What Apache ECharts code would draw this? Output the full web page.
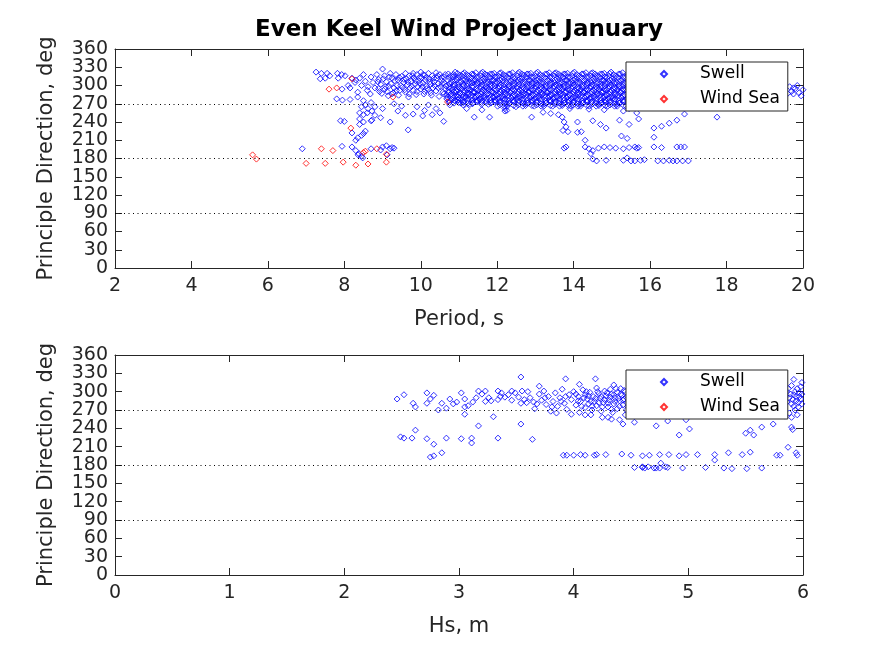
<!DOCTYPE html>
<html>
<head>
<meta charset="utf-8">
<script src="https://cdn.jsdelivr.net/npm/echarts@6/dist/echarts.min.js"></script>
<style>
html,body{margin:0;padding:0;background:#fff;}
#chart{width:887px;height:648px;}
</style>
</head>
<body>
<div id="chart"></div>
<script>
// Top panel: [Period (s), Principle Direction (deg)]
const topSwellSparse = [
[6.9,196],[7.26,322],[7.4,320],[7.55,320],[7.62,316],[7.37,311],[7.5,312],[7.82,320],[7.93,318],[8.02,316],[7.84,312],[7.94,294],[8.1,300],[8.2,312],[8.3,309],[8.28,305],[8.15,296],[8.4,312],[8.45,300],[8.35,289],[8.5,318],[8.55,307],[8.62,298],[8.6,292],[8.7,314],[8.75,305],[8.8,296],[8.68,286],
[7.8,278],[7.95,276],[8.15,277],[8.35,281],[8.5,275],[8.55,268],[8.62,262],[8.7,272],[8.45,265],[8.6,255],[8.72,258],[8.8,265],
[7.9,242],[8.0,241],[8.4,255],[8.5,252],[8.4,245],[8.5,240],[8.7,242],[8.72,243],[8.4,236],[8.2,222],[8.45,218],[8.5,221],[8.55,225],[8.35,214],[8.3,210],
[7.94,200],[8.2,199],[8.3,193],[8.38,188],[8.45,184],[8.48,181],[8.36,186],[8.7,196],[9.0,199],[9.1,201],[9.2,196],[9.25,198],[9.3,197],[8.95,194],[9.12,186],
[8.8,251],[8.95,247],[9.2,240],[9.6,251],[9.8,253],[10.05,250],[10.3,252],[10.5,255],[9.67,227],[10.6,241],[11.4,248],[11.8,248],[9.0,262],[9.3,270],[9.5,266],[9.9,265],[10.2,268],[10.4,262],[10.1,259],[9.4,258]
];
const topSwellMid = [
[8.85,318],[8.9,310],[8.95,302],[8.9,295],[8.98,287],[9.0,327],[9.05,316],[9.1,306],[9.08,298],[9.12,290],[9.15,283],[9.2,320],[9.25,312],[9.22,303],[9.3,296],[9.28,288],[9.35,318],[9.4,309],[9.38,300],[9.45,292],[9.42,284],[9.5,315],[9.55,305],[9.52,297],[9.6,320],[9.62,311],[9.65,301],[9.6,289],[9.68,281],[9.7,316],[9.75,307],[9.72,296],[9.8,320],[9.82,312],[9.85,302],[9.8,292],[9.88,285],[9.9,318],[9.95,308],[9.92,298],[10.0,322],[10.02,313],[10.05,304],[10.0,294],[10.08,286],[10.1,317],[10.12,309],[10.15,299],[10.1,290],[10.2,320],[10.22,311],[10.25,302],[10.2,293],[10.28,284],[10.3,316],[10.35,306],[10.32,296],[10.4,321],[10.42,312],[10.45,303],[10.4,291],[10.48,282],[10.5,318],[10.55,308],[10.52,298],[10.6,314],[10.62,304],[10.65,294],[10.6,286],[10.68,278],
[8.88,306],[8.92,290],[9.02,311],[9.06,294],[9.18,314],[9.16,299],[9.24,286],[9.32,308],[9.36,292],[9.44,313],[9.48,300],[9.56,310],[9.58,293],[9.66,306],[9.7,286],[9.78,316],[9.76,299],[9.86,308],[9.9,290],[9.96,313],[9.98,303],[10.06,318],[10.04,298],[10.14,313],[10.16,295],[10.24,306],[10.26,288],[10.34,312],[10.36,300],[10.44,316],[10.46,296],[10.54,313],[10.56,303],[10.58,289],[10.64,318],[10.66,299],[10.68,284]
];
const topSwellBand = [
[10.72,319],[10.71,308],[10.74,297],[10.73,289],[10.7,280],[10.75,272],
[10.84,314],[10.86,302],[10.83,293],[10.85,284],[10.88,275],
[10.96,320],[10.95,309],[10.98,298],[10.94,290],[10.97,281],[10.99,272],
[11.08,315],[11.1,303],[11.07,294],[11.09,285],[11.06,276],[11.11,268],
[11.2,318],[11.19,307],[11.22,299],[11.21,288],[11.18,280],[11.23,271],
[11.32,313],[11.34,304],[11.31,293],[11.33,284],[11.35,276],
[11.44,321],[11.43,310],[11.46,300],[11.42,289],[11.45,281],[11.47,273],
[11.56,316],[11.58,305],[11.55,295],[11.57,286],[11.54,277],[11.59,269],
[11.68,319],[11.67,308],[11.7,298],[11.69,290],[11.66,280],[11.71,272],
[11.8,314],[11.82,303],[11.79,294],[11.81,285],[11.83,276],
[11.92,320],[11.91,309],[11.94,299],[11.9,288],[11.93,281],[11.95,273],
[12.04,315],[12.06,304],[12.03,295],[12.05,286],[12.02,277],[12.07,268],
[12.16,318],[12.15,307],[12.18,297],[12.17,289],[12.14,279],[12.19,271],[12.2,262],
[12.28,313],[12.3,302],[12.27,293],[12.29,284],[12.31,275],[12.26,266],
[12.4,321],[12.39,310],[12.42,300],[12.38,291],[12.41,282],[12.43,273],
[12.52,316],[12.54,305],[12.51,296],[12.53,286],[12.5,277],[12.55,268],
[12.64,319],[12.63,308],[12.66,298],[12.65,289],[12.62,280],[12.67,271],
[12.76,314],[12.78,303],[12.75,294],[12.77,285],[12.79,276],[12.74,267],
[12.88,320],[12.87,309],[12.9,299],[12.86,290],[12.89,281],[12.91,272],
[13.0,315],[13.02,304],[12.99,295],[13.01,286],[12.98,277],[13.03,268],
[13.12,318],[13.11,307],[13.14,298],[13.13,288],[13.1,279],[13.15,270],
[13.24,313],[13.26,302],[13.23,293],[13.25,284],[13.27,275],[13.22,266],
[13.36,321],[13.35,310],[13.38,300],[13.34,291],[13.37,282],[13.39,273],
[13.48,316],[13.5,305],[13.47,296],[13.49,287],[13.46,278],[13.51,269],
[13.6,319],[13.59,308],[13.62,298],[13.61,289],[13.58,280],[13.63,271],
[13.72,314],[13.74,303],[13.71,294],[13.73,285],[13.75,276],[13.7,267],
[13.84,320],[13.83,309],[13.86,299],[13.82,290],[13.85,281],[13.87,272],
[13.96,315],[13.98,304],[13.95,295],[13.97,286],[13.94,277],[13.99,268],
[14.08,318],[14.07,307],[14.1,297],[14.09,288],[14.06,279],[14.11,270],
[14.2,313],[14.22,302],[14.19,293],[14.21,284],[14.23,275],[14.18,266],
[14.32,321],[14.31,310],[14.34,300],[14.3,291],[14.33,282],[14.35,273],
[14.44,316],[14.46,305],[14.43,296],[14.45,287],[14.42,278],[14.47,269],
[14.56,319],[14.55,308],[14.58,298],[14.57,289],[14.54,280],[14.59,271],
[14.68,314],[14.7,303],[14.67,294],[14.69,285],[14.71,276],[14.66,267],
[14.8,320],[14.79,309],[14.82,299],[14.78,290],[14.81,281],[14.83,272],
[14.92,315],[14.94,304],[14.91,295],[14.93,286],[14.9,277],[14.95,268],
[15.04,318],[15.03,307],[15.06,297],[15.05,288],[15.02,279],[15.07,270],
[15.16,313],[15.18,302],[15.15,293],[15.17,284],[15.19,275],[15.14,266],
[15.28,321],[15.27,310],[15.3,300],[15.26,291],[15.29,282],[15.31,273],
[15.4,316],[15.42,305],[15.39,296],[15.41,287],[15.38,278],[15.43,269]
];
const topSwellBand2 = [
[10.78,316],[10.8,305],[10.77,295],[10.79,286],[10.81,277],[10.76,268],
[10.9,322],[10.92,311],[10.89,301],[10.91,292],[10.93,283],[10.9,275],
[11.02,317],[11.04,306],[11.01,297],[11.03,288],[11.0,279],[11.05,271],
[11.14,321],[11.16,310],[11.13,300],[11.15,291],[11.17,282],[11.12,273],
[11.26,316],[11.28,305],[11.25,295],[11.27,287],[11.24,278],[11.29,269],
[11.38,318],[11.4,308],[11.37,298],[11.39,289],[11.41,280],[11.36,271],
[11.5,313],[11.52,303],[11.49,292],[11.51,284],[11.48,275],
[11.62,322],[11.64,311],[11.61,301],[11.63,293],[11.65,283],[11.6,275],
[11.74,317],[11.76,306],[11.73,296],[11.75,287],[11.72,278],[11.77,269],
[11.86,319],[11.88,308],[11.85,299],[11.87,290],[11.89,281],[11.84,272],
[11.98,314],[12.0,304],[11.97,293],[11.99,284],[11.96,275],[12.01,266],
[12.1,321],[12.12,311],[12.09,301],[12.11,292],[12.13,283],[12.08,274],
[12.22,316],[12.24,305],[12.21,295],[12.23,287],[12.2,278],[12.25,270],
[12.34,319],[12.36,307],[12.33,298],[12.35,289],[12.37,280],[12.32,271],
[12.46,312],[12.48,302],[12.45,292],[12.47,283],[12.44,274],[12.49,265],
[12.58,322],[12.6,311],[12.57,302],[12.59,293],[12.61,284],[12.56,275],
[12.7,317],[12.72,306],[12.69,296],[12.71,287],[12.68,278],[12.73,270],
[12.82,319],[12.84,308],[12.81,298],[12.83,289],[12.85,280],[12.8,271],
[12.94,313],[12.96,303],[12.93,293],[12.95,284],[12.92,275],[12.97,266],
[13.06,322],[13.08,311],[13.05,301],[13.07,292],[13.09,283],[13.04,274],
[13.18,316],[13.2,305],[13.17,296],[13.19,287],[13.16,278],[13.21,269],
[13.3,319],[13.32,308],[13.29,298],[13.31,289],[13.33,280],[13.28,271],
[13.42,313],[13.44,303],[13.41,293],[13.43,284],[13.4,275],[13.45,266],
[13.54,321],[13.56,311],[13.53,301],[13.55,292],[13.57,283],[13.52,274],
[13.66,316],[13.68,305],[13.65,296],[13.67,287],[13.64,278],[13.69,269],
[13.78,319],[13.8,308],[13.77,298],[13.79,289],[13.81,280],[13.76,271],
[13.9,313],[13.92,303],[13.89,293],[13.91,284],[13.88,275],[13.93,266],
[14.02,322],[14.04,311],[14.01,301],[14.03,292],[14.05,283],[14.0,274],
[14.14,316],[14.16,305],[14.13,296],[14.15,287],[14.12,278],[14.17,269],
[14.26,319],[14.28,308],[14.25,298],[14.27,289],[14.29,280],[14.24,271],
[14.38,313],[14.4,303],[14.37,293],[14.39,284],[14.36,275],[14.41,266],
[14.5,321],[14.52,311],[14.49,301],[14.51,292],[14.53,283],[14.48,274],
[14.62,316],[14.64,305],[14.61,296],[14.63,287],[14.6,278],[14.65,269],
[14.74,319],[14.76,308],[14.73,298],[14.75,289],[14.77,280],[14.72,271],
[14.86,313],[14.88,303],[14.85,293],[14.87,284],[14.84,275],[14.89,266],
[14.98,322],[15.0,311],[14.97,301],[14.99,292],[15.01,283],[14.96,274],
[15.1,316],[15.12,305],[15.09,296],[15.11,287],[15.08,278],[15.13,269],
[15.22,319],[15.24,308],[15.21,298],[15.23,289],[15.25,280],[15.2,271],
[15.34,313],[15.36,303],[15.33,293],[15.35,284],[15.32,275],[15.37,266],
[15.46,321],[15.48,311],[15.45,301],[15.47,292],[15.49,283],[15.44,274]
];
const topSwellBand3 = [
[10.74,313],[10.75,303],[10.73,292],[10.76,284],[10.74,275],
[10.86,318],[10.87,308],[10.85,298],[10.88,289],[10.86,280],[10.87,271],
[10.98,313],[10.99,302],[10.97,293],[11.0,284],[10.98,276],
[11.1,319],[11.11,309],[11.09,299],[11.12,290],[11.1,281],[11.11,272],
[11.22,313],[11.23,303],[11.21,293],[11.24,284],[11.22,275],
[11.34,319],[11.35,308],[11.33,298],[11.36,289],[11.34,280],[11.35,270],
[11.46,314],[11.47,304],[11.45,294],[11.48,285],[11.46,276],
[11.58,320],[11.59,309],[11.57,299],[11.6,290],[11.58,281],[11.59,272],
[11.7,313],[11.71,303],[11.69,293],[11.72,285],[11.7,275],
[11.82,319],[11.83,308],[11.81,298],[11.84,290],[11.82,280],[11.83,271],
[11.94,314],[11.95,304],[11.93,294],[11.96,285],[11.94,276],
[12.06,320],[12.07,309],[12.05,299],[12.08,290],[12.06,281],[12.07,272],
[12.18,313],[12.19,302],[12.17,293],[12.2,284],[12.18,275],[12.19,266],
[12.3,319],[12.31,308],[12.29,298],[12.32,289],[12.3,280],[12.31,270],
[12.42,314],[12.43,304],[12.41,294],[12.44,285],[12.42,276],[12.43,267],
[12.54,320],[12.55,309],[12.53,299],[12.56,290],[12.54,281],[12.55,272],
[12.66,313],[12.67,303],[12.65,293],[12.68,284],[12.66,275],[12.67,266],
[12.78,319],[12.79,308],[12.77,298],[12.8,289],[12.78,280],[12.79,271],
[12.9,314],[12.91,304],[12.89,294],[12.92,285],[12.9,276],[12.91,267],
[13.02,320],[13.03,309],[13.01,299],[13.04,290],[13.02,281],[13.03,272],
[13.14,313],[13.15,303],[13.13,293],[13.16,284],[13.14,275],[13.15,266],
[13.26,319],[13.27,308],[13.25,298],[13.28,289],[13.26,280],[13.27,271],
[13.38,314],[13.39,304],[13.37,294],[13.4,285],[13.38,276],[13.39,267],
[13.5,320],[13.51,309],[13.49,299],[13.52,290],[13.5,281],[13.51,272],
[13.62,313],[13.63,303],[13.61,293],[13.64,284],[13.62,275],[13.63,266],
[13.74,319],[13.75,308],[13.73,298],[13.76,289],[13.74,280],[13.75,271],
[13.86,314],[13.87,304],[13.85,294],[13.88,285],[13.86,276],[13.87,267],
[13.98,320],[13.99,309],[13.97,299],[14.0,290],[13.98,281],[13.99,272],
[14.1,313],[14.11,303],[14.09,293],[14.12,284],[14.1,275],[14.11,266],
[14.22,319],[14.23,308],[14.21,298],[14.24,289],[14.22,280],[14.23,271],
[14.34,314],[14.35,304],[14.33,294],[14.36,285],[14.34,276],[14.35,267],
[14.46,320],[14.47,309],[14.45,299],[14.48,290],[14.46,281],[14.47,272],
[14.58,313],[14.59,303],[14.57,293],[14.6,284],[14.58,275],[14.59,266],
[14.7,319],[14.71,308],[14.69,298],[14.72,289],[14.7,280],[14.71,271],
[14.82,314],[14.83,304],[14.81,294],[14.84,285],[14.82,276],[14.83,267],
[14.94,320],[14.95,309],[14.93,299],[14.96,290],[14.94,281],[14.95,272],
[15.06,313],[15.07,303],[15.05,293],[15.08,284],[15.06,275],[15.07,266],
[15.18,319],[15.19,308],[15.17,298],[15.2,289],[15.18,280],[15.19,271],
[15.3,314],[15.31,304],[15.29,294],[15.32,285],[15.3,276],[15.31,267],
[15.42,320],[15.43,309],[15.41,299],[15.44,290],[15.42,281],[15.43,272]
];
const topSwellLow = [
[11.2,262],[11.6,260],[12.2,258],[12.25,259],[12.9,248],[13.2,256],[13.4,254],[13.6,252],[13.7,248],[13.75,240],[13.8,232],[13.72,226],[13.85,224],[14.1,240],[14.5,242],[14.7,236],[14.85,230],[14.1,223],[14.2,224],[14.3,210],[13.8,199],[13.75,197],[15.2,243],[15.25,217],[15.4,213],[15.45,262],[15.3,258],[14.8,260],[14.4,261],[13.9,262],
[14.3,199],[14.4,196],[14.5,193],[14.65,197],[14.8,199],[14.95,198],[15.1,197],[15.3,196],[15.45,198],[15.6,199],[15.65,197],[15.7,198],[16.1,199],[16.3,198],[16.7,199],[16.8,199],[16.9,199],[14.45,188],
[14.5,179],[14.6,176],[14.85,177],[15.3,177],[15.5,176],[15.6,176],[15.75,177],[15.85,178],[16.2,176],[16.35,176],[16.5,177],[16.6,176],[16.7,176],[16.85,176],[17.0,176],[15.4,181],
[16.1,230],[16.1,215],[16.3,233],[16.5,238],[16.7,243],[16.9,253],[15.7,245],[17.75,248],[15.45,236],[15.65,255],
[15.6,300],[15.8,290],[16.0,305],[16.2,285],[16.5,295],[17.0,300],[17.5,290],[18.0,295],[18.5,288],[19.0,298],
[19.65,298],[19.7,290],[19.75,286],[19.8,295],[19.85,300],[19.9,288],[19.95,283],[20.0,293],[19.6,287],[19.75,296]
];
const topWindSea = [
[5.6,186],[5.7,179],[7.0,172],[7.4,196],[7.5,172],[7.6,294],[7.7,193],[7.8,296],[7.97,174],[8.17,230],[8.2,311],[8.3,169],[8.5,190],[8.55,192],[8.62,171],[8.85,196],[9.1,187],[9.1,174],[9.27,281],[10.7,273]
];

// Bottom panel: [Hs (m), Principle Direction (deg)]
const bottomSwellSparse = [
[2.46,288],[2.52,295],[2.6,281],[2.62,275],[2.72,298],[2.72,281],[2.75,288],[2.78,294],[2.82,270],[2.85,281],[2.89,273],[2.92,288],[2.95,280],[2.98,283],[3.02,298],[3.05,288],[3.05,275],[3.05,263],[3.08,277],[3.12,283],[3.15,290],[3.17,301],[3.2,296],[3.23,301],[3.23,284],[3.26,290],[3.28,285],[3.3,259],
[3.34,301],[3.37,298],[3.4,291],[3.43,295],[3.46,301],[3.49,298],[3.46,286],[3.52,291],[3.55,301],[3.54,324],[3.57,287],[3.59,282],[3.54,281],[3.34,287],[3.36,292],
[3.17,244],[3.54,247],
[2.49,226],[2.52,224],[2.59,224],[2.62,237],[2.72,223],[2.78,214],[2.75,193],[2.78,195],[2.85,200],[2.89,224],[3.02,223],[3.11,224],[3.11,216],[3.34,224],[3.64,222],
[3.91,196],[3.94,196],[4.0,196],[4.06,197],[4.18,196],[4.28,197],[4.5,196],[4.66,196],[4.83,197],
[4.6,177],[4.65,177],[4.7,175],[4.75,175],
[3.93,321],[4.19,321]
];
const bottomSwellCluster = [
[3.6,300],[3.62,290],[3.65,283],[3.66,272],[3.7,296],[3.72,286],[3.74,301],[3.76,279],[3.78,292],[3.8,268],[3.82,284],[3.84,298],[3.86,276],[3.88,290],[3.9,304],[3.92,281],[3.94,271],[3.96,295],[3.98,287],[4.0,300],[4.02,278],[4.04,292],[4.05,266],[4.06,284],[4.08,303],[4.1,295],[4.1,274],[4.12,288],[4.13,280],[4.14,299],[4.16,270],[4.17,292],[4.18,284],[4.2,306],[4.2,277],[4.22,297],[4.23,289],[4.24,268],[4.26,282],[4.27,301],[4.28,293],[4.3,275],[4.31,286],[4.32,304],[4.33,296],[4.34,266],[4.35,280],[4.36,290],[4.38,299],[4.38,272],[4.4,285],[4.41,305],[4.42,294],[4.43,278],[4.44,288],[4.45,300],[4.46,270],[4.47,283],[4.48,293],[4.5,310],[4.5,276],[4.52,298],[4.53,286],[4.54,268],[4.55,291],[4.56,280],
[4.02,296],[4.04,285],[4.07,276],[4.09,290],[4.11,300],[4.13,293],[4.15,284],[4.16,276],[4.19,289],[4.21,300],[4.22,282],[4.24,292],[4.25,275],[4.27,287],[4.29,298],[4.3,281],[4.32,291],[4.33,271],[4.35,295],[4.36,284],[4.37,305],[4.39,289],[4.4,276],[4.41,296],[4.43,286],[4.44,302],[4.46,291],[4.47,276],[4.49,287],[4.51,295],[4.52,281],[4.54,299],[4.55,272],[4.57,288],[4.58,297],[3.75,290],[3.68,280],[3.81,275],[3.89,284],[3.93,292],
[3.7,309],[3.85,265],[4.05,312],[4.15,262],[4.25,258],[4.35,311],[4.1,262],[3.98,263],[4.45,262],[4.3,258],
[4.6,290],[4.8,300],[5.0,285],[5.2,295],[5.4,280],[5.6,300],[5.8,290],
[5.86,300],[5.88,290],[5.9,280],[5.9,310],[5.92,295],[5.93,270],[5.94,285],[5.95,305],[5.96,275],[5.97,298],[5.98,288],[5.99,315],[5.88,265],[5.95,262],[5.99,280],[5.92,320],[5.97,292],[5.86,283],[5.84,260],[5.9,258],
[5.87,305],[5.89,296],[5.91,287],[5.93,300],[5.94,292],[5.96,282],[5.98,308],[5.99,296],[5.85,292],[5.92,276]
];
const bottomSwellRight = [
[4.33,255],[4.4,254],[4.43,247],[4.53,250],[4.72,244],[4.98,254],[5.01,239],[4.92,229],[5.5,232],[5.54,237],[5.57,229],[5.64,242],[5.74,247],[5.9,242],[5.91,238],[4.82,252],
[4.1,196],[4.2,197],[4.42,198],[4.6,195],[4.75,197],[4.92,195],[4.98,197],[5.08,197],[5.23,197],[5.23,188],[5.35,200],[5.47,197],[5.54,201],[5.77,196],[5.8,196],[5.87,209],[5.94,200],[5.95,196],
[4.53,176],[4.6,176],[4.62,175],[4.72,175],[4.76,183],[4.8,177],[4.82,176],[4.95,175],[5.15,176],[5.31,175],[5.38,174],[5.51,174],[5.64,175]
];
const bottomWindSea = [];

const refLines = [90, 180, 270];
const periodRange = [2, 20, 2];
const hsRange = [0, 6, 1];
const dirRange = [0, 360, 30];

const topSwell = topSwellSparse.concat(topSwellMid, topSwellBand, topSwellBand2, topSwellBand3, topSwellLow);
const bottomSwell = bottomSwellSparse.concat(bottomSwellCluster, bottomSwellRight);

const FONT = 'DejaVu Sans';
const AX = '#262626';
const tickFs = 19, nameFs = 21;

function xAx(grid, range, name, top) {
  return {
    type: 'value', gridIndex: grid, position: top ? 'top' : 'bottom',
    min: range[0], max: range[1], interval: range[2],
    name: top ? '' : name, nameLocation: 'middle', nameGap: 41,
    nameTextStyle: {fontFamily: FONT, fontSize: nameFs, color: AX},
    axisLine: {show: true, onZero: false, lineStyle: {color: AX, width: 1}},
    axisTick: {show: true, inside: true, length: 7, lineStyle: {color: AX}},
    axisLabel: {show: !top, fontFamily: FONT, fontSize: tickFs, color: AX, margin: 9, showMinLabel: true, showMaxLabel: true, hideOverlap: false},
    splitLine: {show: false}
  };
}
// kind: 'main' (left, inner tick labels + name), 'ends' (left, only 0 and 360 labels), 'right' (box side)
function yAx(grid, kind) {
  const isEnds = kind === 'ends';
  const isRight = kind === 'right';
  return {
    type: 'value', gridIndex: grid, position: isRight ? 'right' : 'left',
    min: dirRange[0], max: dirRange[1], interval: dirRange[2],
    name: kind === 'main' ? 'Principle Direction, deg' : '', nameLocation: 'middle', nameGap: 58,
    nameTextStyle: {fontFamily: FONT, fontSize: nameFs, color: AX},
    axisLine: {show: !isEnds, onZero: false, lineStyle: {color: AX, width: 1}},
    axisTick: {show: !isEnds, inside: true, length: 7, lineStyle: {color: AX}},
    axisLabel: {
      show: !isRight, fontFamily: FONT, fontSize: tickFs, color: AX, margin: 7,
      showMinLabel: true, showMaxLabel: true, hideOverlap: false,
      formatter: function (v) {
        const isEnd = (v === dirRange[0] || v === dirRange[1]);
        if (isEnds) return isEnd ? String(v) : '';
        return isEnd ? '' : String(v);
      }
    },
    splitLine: {show: false}
  };
}
function sc(name, data, xi, yi, color, withLines) {
  const s = {
    type: 'scatter', name: name, data: data, xAxisIndex: xi, yAxisIndex: yi,
    symbol: 'diamond', symbolSize: 6, large: false,
    itemStyle: {color: 'rgba(255,255,255,0)', borderColor: color, borderWidth: 1},
    emphasis: {disabled: true}, z: 3
  };
  if (withLines) {
    s.markLine = {
      silent: true, symbol: 'none', label: {show: false},
      lineStyle: {color: '#000', type: [1, 3.5], width: 1},
      data: refLines.map(v => ({yAxis: v}))
    };
  }
  return s;
}
function leg(top) {
  return {
    left: 626, top: top, orient: 'vertical',
    data: ['Swell', 'Wind Sea'],
    itemWidth: 6, itemHeight: 6, itemGap: 5,
    padding: [2, 8, 2, 34],
    backgroundColor: '#fff', borderColor: AX, borderWidth: 1, borderRadius: 0,
    textStyle: {fontFamily: FONT, fontSize: 17, color: '#000', padding: [0, 0, 0, 28], lineHeight: 20},
    z: 20
  };
}

const chart = echarts.init(document.getElementById('chart'));
chart.setOption({
  animation: false,
  backgroundColor: '#fff',
  title: {
    text: 'Even Keel Wind Project January', left: 459, top: 19, textAlign: 'center', padding: 0,
    textStyle: {fontFamily: FONT, fontSize: 23, fontWeight: 'bold', color: '#000'}
  },
  legend: [leg(62), leg(370)],
  grid: [
    {left: 115, right: 84, top: 49, height: 219},
    {left: 115, right: 84, top: 355, height: 220}
  ],
  xAxis: [xAx(0, periodRange, 'Period, s', false), xAx(0, periodRange, '', true), xAx(1, hsRange, 'Hs, m', false), xAx(1, hsRange, '', true)],
  yAxis: [yAx(0, 'main'), yAx(0, 'ends'), yAx(0, 'right'), yAx(1, 'main'), yAx(1, 'ends'), yAx(1, 'right')],
  series: [
    sc('Swell', topSwell, 0, 0, '#0000ff', true),
    sc('Wind Sea', topWindSea, 0, 0, '#ff0000', false),
    sc('Swell', bottomSwell, 2, 3, '#0000ff', true),
    sc('Wind Sea', bottomWindSea, 2, 3, '#ff0000', false)
  ]
});
</script>
</body>
</html>
